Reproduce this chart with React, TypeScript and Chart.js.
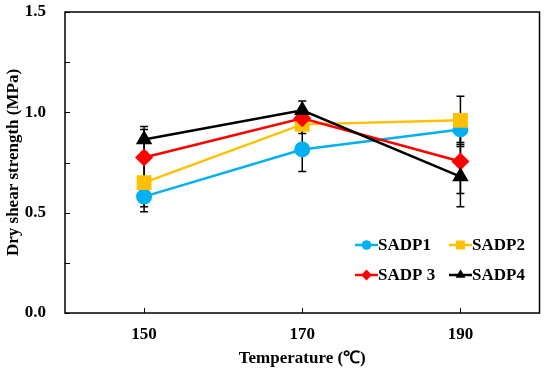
import React, { useEffect, useRef } from "react";
import { Chart, registerables } from "chart.js";

Chart.register(...registerables);

const temperatures = [150, 170, 190];
const seriesNames = ["SADP1", "SADP2", "SADP 3", "SADP4"];
const sadp1 = [0.58, 0.815, 0.915];
const sadp2 = [0.65, 0.94, 0.96];
const sadp3 = [0.775, 0.97, 0.755];
const sadp4 = [0.865, 1.01, 0.68];
const err1 = [0.075, 0.11, 0.065];
const err2 = [0.12, 0.045, 0.12];
const err3 = [0.14, 0.04, 0.16];
const err4 = [0.065, 0.046, 0.15];
const yLabelTicks = [0, 0.5, 1.0, 1.5];
const yMinorTicks = [0.25, 0.75, 1.25];
const xTicks = [150, 170, 190];

const colors = ["#00B0F0", "#FFC000", "#FF0000", "#000000"];
const styles = ["circle", "rect", "rectRot", "triangle"];
const radii = [8, 10.5, 9, 9.5];
const values = [sadp1, sadp2, sadp3, sadp4];
const errors = [err1, err2, err3, err4];

const FONT = "'Liberation Serif', 'Times New Roman', serif";

function drawMarker(ctx: CanvasRenderingContext2D, style: string, x: number, y: number, r: number) {
  ctx.beginPath();
  if (style === "circle") {
    ctx.arc(x, y, r, 0, Math.PI * 2);
  } else if (style === "rect") {
    const s = r * Math.SQRT1_2;
    ctx.rect(x - s, y - s, 2 * s, 2 * s);
  } else if (style === "rectRot") {
    ctx.moveTo(x, y - r);
    ctx.lineTo(x + r, y);
    ctx.lineTo(x, y + r);
    ctx.lineTo(x - r, y);
    ctx.closePath();
  } else {
    ctx.moveTo(x, y - r);
    ctx.lineTo(x + r * Math.sin((2 * Math.PI) / 3), y - r * Math.cos((2 * Math.PI) / 3));
    ctx.lineTo(x + r * Math.sin((4 * Math.PI) / 3), y - r * Math.cos((4 * Math.PI) / 3));
    ctx.closePath();
  }
  ctx.fill();
}

const errorBarPlugin = {
  id: "errorBars",
  beforeDatasetsDraw(chart: any) {
    const ctx = chart.ctx;
    const xs = chart.scales.x;
    const ys = chart.scales.y;
    ctx.save();
    ctx.strokeStyle = "#000";
    ctx.lineWidth = 1.5;
    values.forEach((vals, si) => {
      vals.forEach((v, i) => {
        const x = xs.getPixelForValue(temperatures[i]);
        const yt = ys.getPixelForValue(v + errors[si][i]);
        const yb = ys.getPixelForValue(v - errors[si][i]);
        ctx.beginPath();
        ctx.moveTo(x, yt);
        ctx.lineTo(x, yb);
        ctx.moveTo(x - 4, yt);
        ctx.lineTo(x + 4, yt);
        ctx.moveTo(x - 4, yb);
        ctx.lineTo(x + 4, yb);
        ctx.stroke();
      });
    });
    ctx.restore();
  },
};

const framePlugin = {
  id: "frame",
  afterDraw(chart: any) {
    const ctx = chart.ctx;
    const a = chart.chartArea;
    const xs = chart.scales.x;
    const ys = chart.scales.y;
    ctx.save();
    ctx.strokeStyle = "#000";
    ctx.lineWidth = 1.5;
    ctx.strokeRect(a.left, a.top, a.right - a.left, a.bottom - a.top);
    ctx.lineWidth = 1;
    ctx.beginPath();
    [...yLabelTicks, ...yMinorTicks].forEach((t) => {
      const y = Math.round(ys.getPixelForValue(t)) + 0.5;
      ctx.moveTo(a.left, y);
      ctx.lineTo(a.left + 5, y);
    });
    xTicks.forEach((t) => {
      const x = Math.round(xs.getPixelForValue(t)) + 0.5;
      ctx.moveTo(x, a.bottom);
      ctx.lineTo(x, a.bottom - 5);
    });
    ctx.stroke();

    // legend
    const rows = [
      [0, 1],
      [2, 3],
    ];
    const rowY = [a.top + 233, a.top + 263];
    const colX = [a.left + 290, a.left + 384];
    ctx.font = `bold 17px ${FONT}`;
    ctx.textBaseline = "middle";
    ctx.textAlign = "left";
    rows.forEach((row, ri) => {
      row.forEach((si, ci) => {
        const x0 = colX[ci];
        const y = rowY[ri];
        ctx.strokeStyle = colors[si];
        ctx.fillStyle = colors[si];
        ctx.lineWidth = 2.5;
        ctx.beginPath();
        ctx.moveTo(x0, y);
        ctx.lineTo(x0 + 23, y);
        ctx.stroke();
        drawMarker(ctx, styles[si], x0 + 11.5, y, radii[si] * 0.6);
        ctx.fillStyle = "#000";
        ctx.fillText(seriesNames[si], x0 + 23, y + 1);
      });
    });
    ctx.restore();
  },
};

export default function App() {
  const ref = useRef<HTMLCanvasElement | null>(null);
  useEffect(() => {
    if (!ref.current) return;
    const datasets = values.map((vals, si) => ({
      label: seriesNames[si],
      data: vals.map((v, i) => ({ x: temperatures[i], y: v })),
      borderColor: colors[si],
      backgroundColor: colors[si],
      borderWidth: 2.5,
      pointStyle: styles[si],
      pointRadius: radii[si],
      pointBorderWidth: 0,
      pointBackgroundColor: colors[si],
      pointBorderColor: colors[si],
      tension: 0,
      order: 4 - si,
    }));
    const chart = new Chart(ref.current, {
      type: "line",
      data: { datasets },
      plugins: [errorBarPlugin, framePlugin],
      options: {
        animation: false,
        responsive: false,
        maintainAspectRatio: false,
        layout: { padding: { top: 12, right: 6, left: 0, bottom: 0 } },
        plugins: {
          legend: { display: false },
          tooltip: { enabled: false },
        },
        scales: {
          x: {
            type: "linear",
            min: 140,
            max: 200,
            afterBuildTicks: (scale: any) => {
              scale.ticks = xTicks.map((v) => ({ value: v }));
            },
            afterFit: (scale: any) => {
              scale.height = 57;
            },
            grid: { display: false, drawTicks: true, tickLength: 11 },
            border: { display: false },
            ticks: {
              color: "#000",
              padding: 0,
              font: { family: FONT, size: 17, weight: "bold" },
              callback: (v: any) => String(v),
            },
            title: {
              display: true,
              text: "Temperature (℃)",
              color: "#000",
              padding: { top: 0, bottom: 1 },
              font: { family: FONT, size: 17, weight: "bold" },
            },
          },
          y: {
            type: "linear",
            min: 0,
            max: 1.5,
            afterBuildTicks: (scale: any) => {
              scale.ticks = yLabelTicks.map((v) => ({ value: v }));
            },
            afterFit: (scale: any) => {
              scale.width = 65;
            },
            grid: { display: false, drawTicks: true, tickLength: 19 },
            border: { display: false },
            ticks: {
              color: "#000",
              padding: 0,
              font: { family: FONT, size: 17, weight: "bold" },
              callback: (v: any) => Number(v).toFixed(1),
            },
            title: {
              display: true,
              text: "Dry shear strength (MPa)",
              color: "#000",
              padding: { top: 3, bottom: 0 },
              font: { family: FONT, size: 17, weight: "bold" },
            },
          },
        },
      } as any,
    });
    return () => chart.destroy();
  }, []);
  return (
    <div style={{ position: "fixed", left: 0, top: 0, width: 550, height: 370, background: "#fff" }}>
      <canvas ref={ref} width={550} height={370} style={{ width: 550, height: 370 }} />
    </div>
  );
}
